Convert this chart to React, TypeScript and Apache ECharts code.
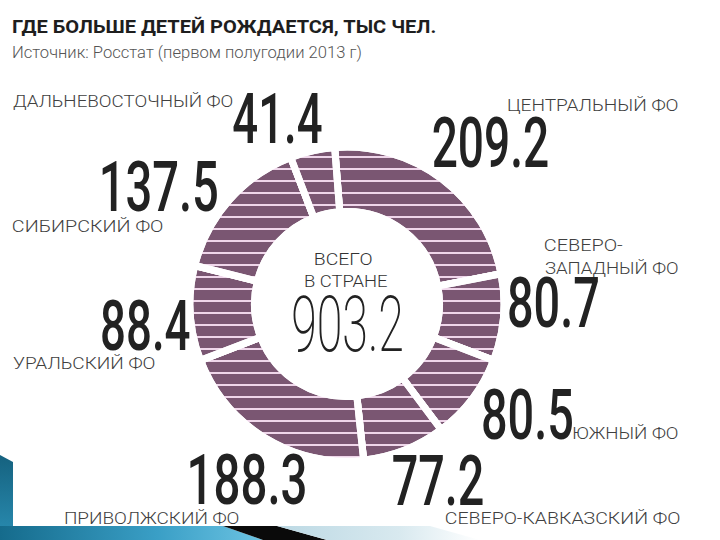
import React, { useEffect, useRef } from 'react';
import * as echarts from 'echarts';

// ---- data ----
const regions = [
  'Центральный ФО',
  'Северо-Западный ФО',
  'Южный ФО',
  'Северо-Кавказский ФО',
  'Приволжский ФО',
  'Уральский ФО',
  'Сибирский ФО',
  'Дальневосточный ФО',
];
const births = [209.2, 80.7, 80.5, 77.2, 188.3, 88.4, 137.5, 41.4];
const titleText = 'ГДЕ БОЛЬШЕ ДЕТЕЙ РОЖДАЕТСЯ, ТЫС ЧЕЛ.';
const sourceText = 'Источник: Росстат (первом полугодии 2013 г)';
const totalCaption = ['ВСЕГО', 'В СТРАНЕ'];

// ---- layout (label boxes: left, right, middle y) ----
const valueBoxes: number[][] = [
  [433, 548, 143],
  [509, 598, 303],
  [483, 572, 415],
  [393, 483, 481],
  [190, 305, 481],
  [102, 190, 326],
  [102, 217, 188],
  [233, 322, 119],
];
const nameBoxes: number[][][] = [
  [[508, 678, 105]],
  [[545, 623, 245], [545, 678, 268]],
  [[573, 678, 433]],
  [[446, 680, 518]],
  [[65, 239, 518]],
  [[13, 155, 363]],
  [[13, 163, 226]],
  [[13, 233, 101]],
];

const FONT = 'Roboto';
let measureCtx: CanvasRenderingContext2D | null = null;

function fitText(
  text: string,
  left: number,
  right: number,
  midY: number,
  size: number,
  weight: number | string,
  fill: string
) {
  if (!measureCtx) measureCtx = document.createElement('canvas').getContext('2d');
  const ctx = measureCtx!;
  ctx.font = `${weight} ${size}px ${FONT}`;
  const m = ctx.measureText(text);
  const ink = m.actualBoundingBoxLeft + m.actualBoundingBoxRight;
  const s = ink > 0 ? (right - left) / ink : 1;
  return {
    type: 'text',
    silent: true,
    x: left + m.actualBoundingBoxLeft * s,
    y: midY,
    scaleX: s,
    z: 10,
    style: {
      text,
      fontFamily: FONT,
      fontSize: size,
      fontWeight: weight,
      fill,
      textAlign: 'left',
      textVerticalAlign: 'middle',
    },
  };
}

function splitName(name: string, lines: number): string[] {
  const up = name.toUpperCase();
  if (lines === 2) {
    const i = up.indexOf('-');
    return [up.slice(0, i + 1), up.slice(i + 1)];
  }
  return [up];
}

export default function App() {
  const ref = useRef<HTMLDivElement>(null);

  useEffect(() => {
    if (!ref.current) return;
    const chart = echarts.init(ref.current, undefined, { renderer: 'svg' });

    const total = births.reduce((a, b) => a + b, 0);

    const graphics: any[] = [];
    // title & subtitle
    graphics.push(fitText(titleText, 13, 437, 27, 19, 'bold', '#1e1e1e'));
    graphics.push(fitText(sourceText, 13, 362, 52.5, 16, 300, '#555555'));

    // value + name labels
    births.forEach((v, i) => {
      const b = valueBoxes[i];
      graphics.push(fitText(v.toFixed(1), b[0], b[1], b[2], 70, 500, '#222222'));
      const lines = splitName(regions[i], nameBoxes[i].length);
      lines.forEach((ln, j) => {
        const nb = nameBoxes[i][j];
        graphics.push(fitText(ln, nb[0], nb[1], nb[2], 17, 300, '#404040'));
      });
    });

    // centre
    graphics.push(fitText(totalCaption[0], 315, 372, 259, 17, 300, '#333333'));
    graphics.push(fitText(totalCaption[1], 305, 388, 281, 17, 300, '#333333'));
    graphics.push(fitText(total.toFixed(1), 293, 402, 324.5, 77, 200, '#222222'));

    // slide decoration bottom-left
    graphics.push({
      type: 'polygon',
      silent: true,
      shape: { points: [[0, 455], [13, 462], [13, 540], [0, 540]] },
      style: {
        fill: new echarts.graphic.LinearGradient(0, 0, 0, 1, [
          { offset: 0, color: '#15627f' },
          { offset: 1, color: '#2a8db3' },
        ]),
      },
    });
    graphics.push({
      type: 'polygon',
      silent: true,
      shape: { points: [[0, 526], [223, 526], [263, 540], [0, 540]] },
      style: {
        fill: new echarts.graphic.LinearGradient(0, 0, 1, 0, [
          { offset: 0, color: '#156b8c' },
          { offset: 0.6, color: '#3a9fc6' },
          { offset: 1, color: '#6cc3e2' },
        ]),
      },
    });
    graphics.push({
      type: 'polygon',
      silent: true,
      shape: { points: [[223, 526], [277, 526], [327, 540], [263, 540]] },
      style: { fill: '#0a0a0a' },
    });
    graphics.push({
      type: 'polygon',
      silent: true,
      shape: { points: [[277, 526], [430, 526], [480, 540], [327, 540]] },
      style: {
        fill: new echarts.graphic.LinearGradient(0, 0, 1, 0, [
          { offset: 0, color: '#bcd9e4' },
          { offset: 0.6, color: '#d8e9ef' },
          { offset: 1, color: '#ffffff' },
        ]),
      },
    });

    chart.setOption({
      animation: false,
      backgroundColor: '#ffffff',
      series: [
        {
          type: 'pie',
          center: [347, 304],
          radius: [92.5, 157],
          startAngle: 94.5,
          clockwise: true,
          silent: true,
          label: { show: false },
          labelLine: { show: false },
          itemStyle: {
            color: '#7a5672',
            borderColor: '#ffffff',
            borderWidth: 7,
            decal: {
              symbol: 'rect',
              symbolSize: 1,
              symbolKeepAspect: false,
              dashArrayX: [12, 0],
              dashArrayY: [2, 10],
              rotation: 0,
              color: '#efd6ea',
            },
          },
          data: regions.map((name, i) => ({ name, value: births[i] })),
        },
      ],
      graphic: graphics,
    });

    return () => chart.dispose();
  }, []);

  return (
    <div
      ref={ref}
      style={{ position: 'fixed', left: 0, top: 0, width: 720, height: 540 }}
    />
  );
}
